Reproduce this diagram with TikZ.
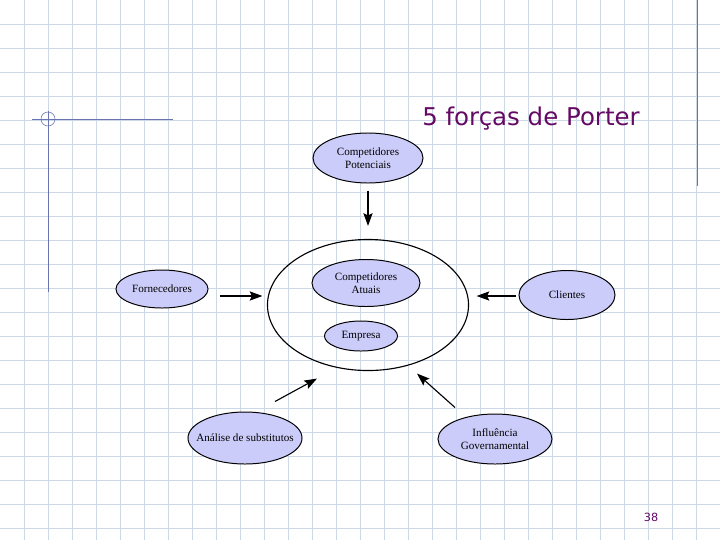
\documentclass[tikz,border=0pt]{standalone}
\usepackage{fontspec}
\setmainfont{Liberation Serif}
\newfontfamily\titulofonte{DejaVu Sans}
\usetikzlibrary{shapes.geometric, arrows.meta, calc}
\definecolor{roxo}{RGB}{100,10,100}
\definecolor{lilas}{RGB}{204,204,250}
\definecolor{grade}{RGB}{205,216,230}
\definecolor{azulguia}{RGB}{105,115,175}

\begin{document}
\begin{tikzpicture}[x=0.025cm, y=-0.025cm, >={Stealth[length=9pt, width=6.5pt, inset=1.5pt]},
	forca/.style={ellipse, draw=black, line width=0.7pt, fill=lilas, inner sep=0pt},
	rotulo/.style={align=center, font=\fontsize{7.9}{9.5}\selectfont, inner sep=0pt},
	seta/.style={->, line width=0.8pt}]
	% 1. fundo quadriculado do slide
	\useasboundingbox (0,0) rectangle (720,540);
	\fill[white] (0,0) rectangle (720,540);
	\foreach \gx in {24,48,...,696} \draw[grade, line width=0.6pt] (\gx,0) -- (\gx,540);
	\foreach \gy in {24,48,...,528} \draw[grade, line width=0.6pt] (0,\gy) -- (720,\gy);
	
	% 2. linhas do modelo
	\draw[azulguia, line width=0.7pt] (32,119) -- (173,119);
	\draw[azulguia, line width=0.7pt] (48,111) -- (48,292);
	\draw[azulguia, line width=0.4pt] (48,119) circle[radius=7];
	\draw[azulguia, line width=0.7pt] (697,0) -- (697,186);
	
	% 3. titulo e numero da pagina
	\node[roxo, font=\titulofonte\fontsize{17.4}{20}\selectfont, anchor=base] (titulo) at (531,125) {5 forças de Porter};
	\node[roxo, font=\titulofonte\fontsize{8}{9}\selectfont, anchor=base] (pagina) at (651,521) {38};
	
	% 4. elipses das forcas
	\node[ellipse, draw=black, line width=0.8pt, inner sep=0pt, minimum width=5.025cm, minimum height=3.275cm] (mercado) at (368,305) {};
	\node[forca, minimum width=2.75cm, minimum height=1.25cm] (potenciais) at (368,158) {};
	\node[rotulo] (potenciaisTxt) at (potenciais) {Competidores\\Potenciais};
	\node[forca, minimum width=2.3cm, minimum height=0.95cm] (fornecedores) at (162,289) {};
	\node[rotulo] (fornecedoresTxt) at (fornecedores) {Fornecedores};
	\node[forca, minimum width=2.7cm, minimum height=1.175cm] (atuais) at (366,283) {};
	\node[rotulo] (atuaisTxt) at (atuais) {Competidores\\Atuais};
	\node[forca, minimum width=1.825cm, minimum height=0.75cm] (empresa) at (361,336) {};
	\node[rotulo] (empresaTxt) at (empresa) {Empresa};
	\node[forca, minimum width=2.4cm, minimum height=1.225cm] (clientes) at (567,295) {};
	\node[rotulo] (clientesTxt) at (clientes) {Clientes};
	\node[forca, minimum width=2.85cm, minimum height=1.3cm] (substitutos) at (245,438) {};
	\node[rotulo] (substitutosTxt) at (substitutos) {Análise de substitutos};
	\node[forca, minimum width=2.85cm, minimum height=1.25cm] (governo) at (495,439) {};
	\node[rotulo] (governoTxt) at (governo) {Influência\\Governamental};
	
	% 5. setas para o mercado
	\draw[seta] ($(potenciais.south)+(0,7)$) -- ($(mercado.north)+(0,-13)$);
	\draw[seta] ($(fornecedores.east)+(11,7)$) -- ($(mercado.west)+(-4.5,-9)$);
	\draw[seta] ($(clientes.west)+(-3,1)$) -- ($(mercado.east)+(7.5,-9)$);
	\draw[seta] ($(substitutos.north)+(30,-10)$) -- ($(mercado.south)+(-51,7.5)$);
	\draw[seta] ($(governo.north)+(-40,-6)$) -- ($(mercado.south)+(49,2.5)$);
\end{tikzpicture}
\end{document}
